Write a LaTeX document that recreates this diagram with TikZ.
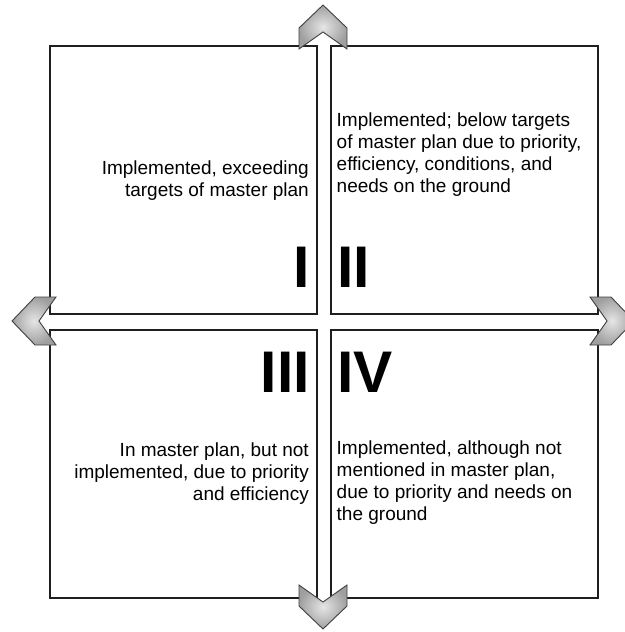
\documentclass[tikz,border=0pt]{standalone}
\usepackage{fontspec}
\setmainfont{Liberation Sans}

\tikzset{
  quad/.style={draw=black!88, line width=1.8bp, minimum width=267bp, minimum height=268bp, inner sep=0pt},
  desc/.style={font=\fontsize{19bp}{22bp}\selectfont, inner sep=0pt},
  numeral/.style={font=\fontsize{58.7bp}{60bp}\selectfont\bfseries, inner sep=0pt},
  chev/.style={draw=black!75, line width=0.9bp, inner color=gray!20, outer color=gray!75}
}
\newcommand{\chevronat}[3]{\path[chev, shift={(#1,#2)}, rotate=#3] (0,0) -- (24,23) -- (24,44) -- (0,27) -- (-24,44) -- (-24,23) -- cycle;}

\begin{document}
\begin{tikzpicture}[x=1bp, y=-1bp]
  \useasboundingbox (0,0) rectangle (625,632);
  \node[quad, anchor=north west] (QI)   at (49,45)   {};
  \node[quad, anchor=north west] (QII)  at (330,45)  {};
  \node[quad, anchor=north west] (QIII) at (49,329)  {};
  \node[quad, anchor=north west] (QIV)  at (330,329) {};
  \chevronat{323}{5}{0}
  \chevronat{12}{321}{90}
  \chevronat{323}{629}{180}
  \chevronat{634}{321}{-90}
  \path (309,161) node[desc, anchor=north east, align=right] (TI)
          {Implemented, exceeding\\targets of master plan}
        (336.5,113) node[desc, anchor=north west, align=left] (TII)
          {Implemented; below targets\\of master plan due to priority,\\efficiency, conditions, and\\needs on the ground}
        (309,443) node[desc, anchor=north east, align=right] (TIII)
          {In master plan, but not\\implemented, due to priority\\and efficiency}
        (336.5,441) node[desc, anchor=north west, align=left] (TIV)
          {Implemented, although not\\mentioned in master plan,\\due to priority and needs on\\the ground};
  \path (310,287) node[numeral, anchor=base east] (NI) {I}
        (337,287) node[numeral, anchor=base west] (NII) {II}
        (310,392) node[numeral, anchor=base east] (NIII) {III}
        (337,392) node[numeral, anchor=base west] (NIV) {IV};
\end{tikzpicture}
\end{document}
